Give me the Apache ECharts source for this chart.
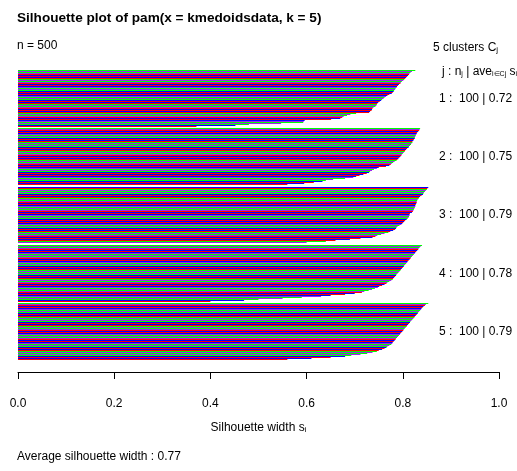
<!DOCTYPE html>
<html><head><meta charset="utf-8">
<script src="https://cdn.jsdelivr.net/npm/echarts@6/dist/echarts.min.js"></script>
<style>html,body{margin:0;padding:0;background:#fff}#c{width:517px;height:471px}</style>
</head><body><div id="c"></div>
<script>
// silhouette widths per cluster, sorted descending (top to bottom)
const cluster1 = [0.826,0.822,0.819,0.817,0.816,0.815,0.814,0.813,0.812,0.811,
0.810,0.809,0.808,0.807,0.806,0.805,0.803,0.802,0.801,0.799,
0.798,0.797,0.796,0.795,0.793,0.792,0.791,0.790,0.789,0.788,
0.787,0.786,0.785,0.785,0.784,0.783,0.782,0.781,0.780,0.779,
0.778,0.777,0.775,0.772,0.770,0.768,0.765,0.763,0.762,0.761,
0.760,0.758,0.757,0.755,0.754,0.752,0.751,0.749,0.748,0.747,
0.746,0.746,0.745,0.744,0.743,0.741,0.739,0.737,0.737,0.736,
0.736,0.735,0.734,0.732,0.731,0.730,0.703,0.697,0.691,0.688,
0.684,0.680,0.677,0.674,0.672,0.670,0.661,0.651,0.598,0.596,
0.594,0.593,0.593,0.570,0.547,0.502,0.480,0.452,0.423,0.371];
const cluster2 = [0.836,0.835,0.835,0.834,0.833,0.832,0.830,0.830,0.829,0.829,
0.828,0.828,0.827,0.827,0.826,0.826,0.825,0.825,0.824,0.823,
0.822,0.822,0.821,0.820,0.820,0.819,0.818,0.817,0.817,0.816,
0.815,0.814,0.813,0.812,0.810,0.809,0.808,0.807,0.806,0.805,
0.804,0.803,0.802,0.801,0.800,0.799,0.798,0.797,0.796,0.795,
0.794,0.793,0.792,0.791,0.790,0.789,0.787,0.785,0.783,0.781,
0.780,0.779,0.777,0.775,0.773,0.772,0.770,0.765,0.758,0.750,
0.746,0.742,0.740,0.738,0.736,0.734,0.732,0.730,0.728,0.725,
0.722,0.718,0.714,0.710,0.707,0.703,0.697,0.690,0.680,0.668,
0.655,0.648,0.640,0.633,0.625,0.615,0.605,0.595,0.580,0.560];
const cluster3 = [0.855,0.853,0.852,0.851,0.850,0.849,0.848,0.847,0.846,0.845,
0.844,0.843,0.843,0.842,0.840,0.839,0.838,0.836,0.835,0.834,
0.833,0.832,0.831,0.830,0.830,0.829,0.829,0.829,0.828,0.828,
0.828,0.827,0.827,0.826,0.826,0.825,0.825,0.825,0.824,0.824,
0.823,0.823,0.822,0.821,0.820,0.819,0.817,0.815,0.815,0.814,
0.814,0.814,0.813,0.813,0.812,0.811,0.810,0.808,0.806,0.805,
0.804,0.803,0.802,0.801,0.800,0.799,0.797,0.795,0.793,0.791,
0.789,0.788,0.787,0.786,0.785,0.784,0.782,0.780,0.777,0.774,
0.770,0.766,0.762,0.759,0.755,0.751,0.747,0.743,0.740,0.737,
0.725,0.712,0.700,0.690,0.675,0.660,0.640,0.620,0.600,0.570];
const cluster4 = [0.840,0.838,0.837,0.836,0.835,0.834,0.833,0.832,0.831,0.830,
0.829,0.828,0.827,0.826,0.825,0.824,0.823,0.822,0.821,0.820,
0.819,0.818,0.817,0.816,0.815,0.814,0.813,0.812,0.811,0.810,
0.809,0.808,0.807,0.806,0.805,0.804,0.803,0.802,0.801,0.800,
0.799,0.798,0.797,0.796,0.795,0.794,0.793,0.792,0.791,0.790,
0.789,0.788,0.787,0.786,0.785,0.784,0.783,0.782,0.781,0.780,
0.779,0.778,0.776,0.774,0.772,0.770,0.768,0.766,0.764,0.762,
0.760,0.757,0.754,0.751,0.748,0.745,0.742,0.739,0.736,0.733,
0.729,0.725,0.720,0.715,0.708,0.700,0.690,0.680,0.665,0.650,
0.630,0.610,0.590,0.570,0.550,0.530,0.500,0.470,0.430,0.400];
const cluster5 = [0.853,0.850,0.848,0.846,0.844,0.843,0.842,0.841,0.840,0.839,
0.838,0.837,0.836,0.835,0.834,0.833,0.832,0.831,0.830,0.829,
0.828,0.827,0.826,0.825,0.824,0.823,0.822,0.821,0.820,0.819,
0.818,0.817,0.816,0.815,0.814,0.813,0.812,0.811,0.810,0.809,
0.808,0.807,0.806,0.805,0.804,0.803,0.802,0.801,0.800,0.799,
0.798,0.797,0.796,0.795,0.794,0.793,0.792,0.791,0.790,0.789,
0.788,0.787,0.786,0.785,0.784,0.783,0.782,0.781,0.780,0.779,
0.778,0.777,0.776,0.774,0.772,0.770,0.768,0.766,0.764,0.762,
0.760,0.757,0.754,0.750,0.746,0.742,0.737,0.732,0.726,0.720,
0.712,0.703,0.693,0.680,0.665,0.650,0.630,0.610,0.590,0.560];

const clusterSizes = [100, 100, 100, 100, 100];
const clusterAvg = ['0.72', '0.75', '0.79', '0.78', '0.79'];
const xTicks = [0, 0.2, 0.4, 0.6, 0.8, 1.0];
const barColors = ['#00FF00', '#0000FF', '#A020F0', '#FF0000'];
const titleText = 'Silhouette plot of pam(x = kmedoidsdata, k = 5)';
const totalN = 500;
const avgWidth = '0.77';

const clusterValues = [cluster1, cluster2, cluster3, cluster4, cluster5];
const gapSize = 3;
const FONT = '"Liberation Sans", Arial, Helvetica, sans-serif';

const categories = [];
const barData = [];
const clusterEnds = [];
clusterValues.forEach((vals, c) => {
  if (c > 0) for (let g = 0; g < gapSize; g++) categories.push('gap' + c + '_' + g);
  const start = categories.length;
  vals.forEach((v, i) => {
    const idx = categories.length;
    categories.push('c' + (c + 1) + '_' + (i + 1));
    barData.push({ value: [v, idx], itemStyle: { color: barColors[i % barColors.length] } });
  });
  clusterEnds.push([categories[start], categories[categories.length - 1]]);
});

const chart = echarts.init(document.getElementById('c'), null, { renderer: 'canvas' });
const option = {
  animation: false,
  backgroundColor: '#fff',
  grid: { left: 18, right: 18, top: 70, bottom: 111, containLabel: false },
  xAxis: {
    type: 'value', min: xTicks[0], max: xTicks[xTicks.length - 1], interval: 0.2,
    offset: 12,
    axisLine: { show: true, lineStyle: { color: '#000', width: 1 } },
    axisTick: { show: true, length: 7, lineStyle: { color: '#000', width: 1 } },
    axisLabel: { margin: 26, fontSize: 12, color: '#000', fontFamily: FONT, formatter: v => v.toFixed(1) },
    splitLine: { show: false },
    name: '{n|Silhouette width s}{sub|i}',
    nameLocation: 'middle', nameGap: 46,
    nameTextStyle: {
      rich: {
        n: { fontSize: 12, fontFamily: FONT, color: '#000', lineHeight: 16, verticalAlign: 'bottom' },
        sub: { fontSize: 8, fontFamily: FONT, color: '#000', lineHeight: 8, verticalAlign: 'bottom' }
      }
    }
  },
  yAxis: { type: 'category', data: categories, inverse: true, show: false },
  series: [{
    type: 'custom',
    silent: true,
    encode: { x: 0, y: 1 },
    data: barData,
    renderItem: function (params, api) {
      const k = api.value(1);
      const v = api.value(0);
      const p0 = api.coord([0, k]);
      const p1 = api.coord([v, k]);
      const h = api.size([0, 1])[1];
      const top = Math.round(p0[1] - h / 2);
      const bot = Math.round(p0[1] + h / 2);
      if (bot <= top) return null;
      return {
        type: 'rect',
        shape: { x: p0[0], y: top, width: p1[0] - p0[0], height: bot - top },
        style: { fill: api.visual('color') }
      };
    }
  }]
};
chart.setOption(option);

function txt(x, y, text, opts) {
  opts = opts || {};
  return {
    type: 'text', silent: true,
    style: Object.assign({
      x: x, y: y, text: text, fill: '#000',
      fontSize: 12, fontFamily: FONT,
      align: 'left', verticalAlign: 'middle',
      textAlign: 'left', textVerticalAlign: 'middle'
    }, opts)
  };
}
const subRich = {
  n: { fontSize: 12, fontFamily: FONT, fill: '#000', color: '#000', lineHeight: 16, verticalAlign: 'bottom' },
  sub: { fontSize: 8, fontFamily: FONT, fill: '#000', color: '#000', lineHeight: 8, verticalAlign: 'bottom' },
  sub7: { fontSize: 7, fontFamily: FONT, fill: '#000', color: '#000', lineHeight: 8, verticalAlign: 'bottom' }
};

const graphics = [
  txt(17, 18, titleText, { fontSize: 13.6, fontWeight: 'bold' }),
  txt(17, 46, 'n = ' + totalN),
  txt(433, 46, '{n|' + clusterValues.length + ' clusters C}{sub|j}', { rich: subRich }),
  txt(442, 70, '{n|j : n}{sub7|j}{n| | ave}{sub7|i\u2208Cj}{n| s}{sub7|i}', { rich: subRich }),
  txt(17, 457, 'Average silhouette width : ' + avgWidth)
];
clusterEnds.forEach((pair, c) => {
  const y0 = chart.convertToPixel({ yAxisIndex: 0 }, pair[0]);
  const y1 = chart.convertToPixel({ yAxisIndex: 0 }, pair[1]);
  graphics.push(txt(439, (y0 + y1) / 2, (c + 1) + ' :  ' + clusterSizes[c] + ' | ' + clusterAvg[c]));
});
chart.setOption({ graphic: { elements: graphics } });
</script>
</body></html>
